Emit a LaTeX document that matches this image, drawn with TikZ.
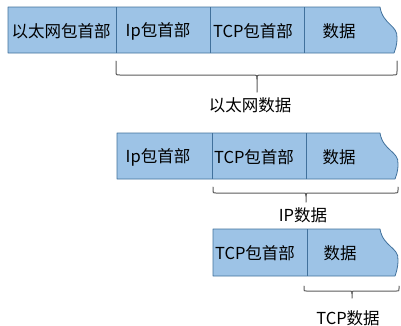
\documentclass[tikz,border=0pt]{standalone}
\usepackage{fontspec}
\setmainfont{Noto Sans CJK SC}
\definecolor{cellfill}{HTML}{9DC3E6}
\definecolor{celldraw}{HTML}{41719C}
\definecolor{bracegray}{HTML}{5A5A5A}
\tikzset{
  cell/.style={fill=cellfill,draw=celldraw,line width=0.8pt,line join=round},
  divider/.style={draw=celldraw,line width=0.8pt},
  lbl/.style={font=\fontsize{16.5}{19}\selectfont,inner sep=0pt,text=black},
  bracket/.style={draw=bracegray,line width=1pt,line cap=round}
}
\begin{document}
\begin{tikzpicture}[x=1pt,y=-1pt]
\useasboundingbox (0,0) rectangle (401,325);
% row 1
\path[cell] (8,7) -- (380,7) .. controls (383,25) and (398,25) .. (397,38) .. controls (397,46) and (395,50) .. (394,53) -- (8,53) -- cycle;
\draw[divider] (116,7) -- (116,53);
\draw[divider] (210,7) -- (210,53);
\draw[divider] (304,7) -- (304,53);
\node[lbl] (a1) at (61,31) {以太网包首部};
\node[lbl] (a2) at (158,31) {Ip包首部};
\node[lbl] (a3) at (253,31) {TCP包首部};
\node[lbl] (a4) at (339,31) {数据};
% brace 1
\draw[bracket] (116,61) -- (116,71) .. controls (116,75) .. (120,75) -- (252,75) .. controls (257,75) .. (257,79) -- (257,92);
\draw[bracket] (397,61) -- (397,71) .. controls (397,75) .. (393,75) -- (262,75) .. controls (257,75) .. (257,79);
\node[lbl] (l1) at (250,105) {以太网数据};
% row 2
\path[cell] (117,133) -- (380,133) .. controls (383,151) and (399,151) .. (398,164) .. controls (398,172) and (396,176) .. (395,179) -- (117,179) -- cycle;
\draw[divider] (212,133) -- (212,179);
\draw[divider] (306,133) -- (306,179);
\node[lbl] (b1) at (158,157) {Ip包首部};
\node[lbl] (b2) at (254,157) {TCP包首部};
\node[lbl] (b3) at (339,157) {数据};
% brace 2
\draw[bracket] (213,187) -- (213,190) .. controls (213,193) .. (216,193) -- (302,193) .. controls (306,193) .. (306,196) -- (306,202);
\draw[bracket] (398,187) -- (398,190) .. controls (398,193) .. (395,193) -- (310,193) .. controls (306,193) .. (306,196);
\node[lbl] (l2) at (303,215) {IP数据};
% row 3
\path[cell] (213,229) -- (380,229) .. controls (383,247) and (399,247) .. (398,260) .. controls (398,268) and (396,273) .. (395,276) -- (213,276) -- cycle;
\draw[divider] (307,229) -- (307,276);
\node[lbl] (c1) at (255,253) {TCP包首部};
\node[lbl] (c2) at (340,253) {数据};
% brace 3
\draw[bracket] (304,286) -- (304,288.5) .. controls (304,291) .. (306.5,291) -- (349,291) .. controls (352,291) .. (352,293.5) -- (352,298);
\draw[bracket] (399,286) -- (399,288.5) .. controls (399,291) .. (396.5,291) -- (355,291) .. controls (352,291) .. (352,293.5);
\node[lbl] (l3) at (348,318) {TCP数据};
\end{tikzpicture}
\end{document}
